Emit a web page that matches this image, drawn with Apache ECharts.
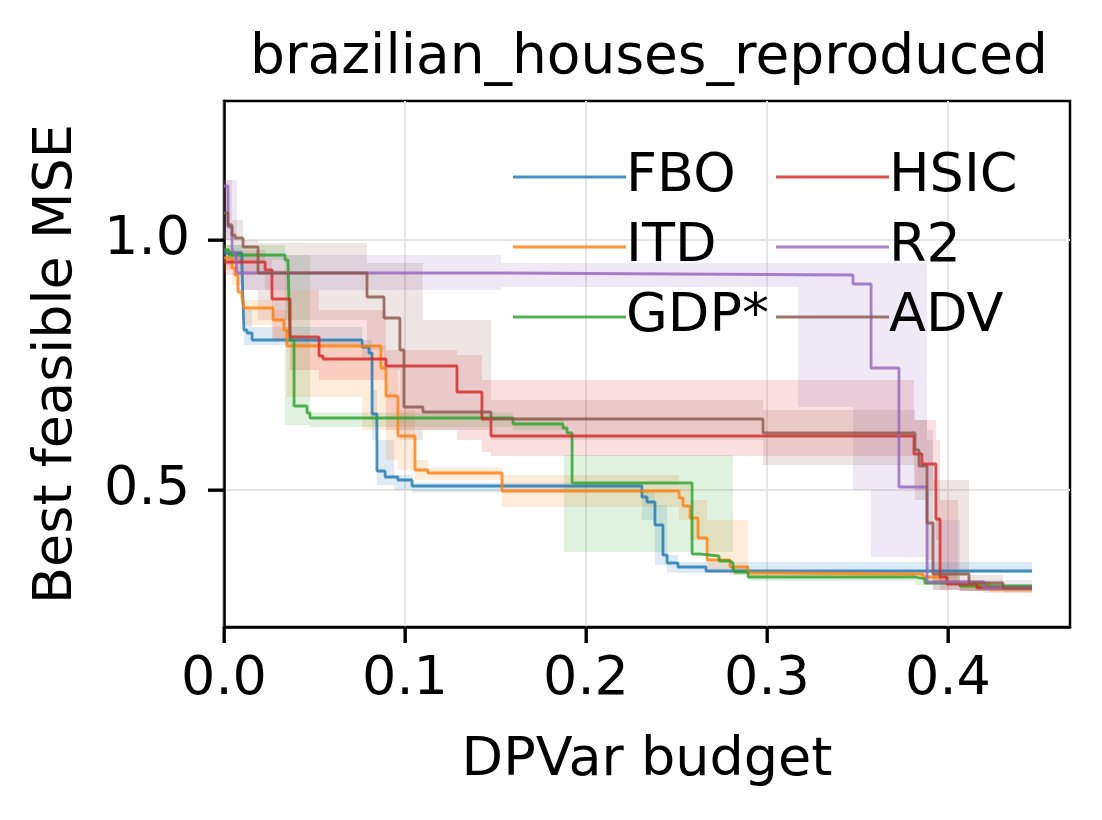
<!DOCTYPE html>
<html>
<head>
<meta charset="utf-8">
<script src="https://cdn.jsdelivr.net/npm/echarts@6/dist/echarts.min.js"></script>
<style>html,body{margin:0;padding:0;background:#fff}#c{width:1102px;height:820px}</style>
</head>
<body>
<div id="c"></div>
<script>
// ---------- data ----------
const X_END = 0.4464;
const X_MIN = 0, X_MAX = 0.4674, Y_MIN = 0.226, Y_MAX = 1.278;
const xTicks = [0, 0.1, 0.2, 0.3, 0.4];
const yTicks = [0.5, 1.0];
const names = ['FBO', 'ITD', 'GDP*', 'HSIC', 'R2', 'ADV'];

const fboX = [0, 0.0099, 0.011, 0.0127, 0.0155, 0.0763, 0.0801, 0.0818, 0.0845, 0.0890, 0.0961, 0.1039, 0.2309, 0.2337, 0.2381, 0.2425, 0.2448, 0.2508, 0.2663];
const fboY = [0.974, 0.946, 0.82, 0.814, 0.80, 0.786, 0.774, 0.652, 0.538, 0.526, 0.52, 0.508, 0.486, 0.476, 0.43, 0.37, 0.354, 0.346, 0.338];

const itdX = [0, 0.0044, 0.0061, 0.0077, 0.0099, 0.011, 0.0271, 0.0331, 0.0348, 0.0867, 0.0895, 0.0961, 0.1055, 0.1127, 0.1536, 0.2514, 0.2536, 0.2575, 0.2619, 0.2669, 0.2796, 0.2895, 0.3044, 0.3862, 0.3956, 0.4066, 0.4232];
const itdY = [0.964, 0.944, 0.93, 0.896, 0.886, 0.864, 0.84, 0.82, 0.788, 0.744, 0.688, 0.608, 0.54, 0.534, 0.498, 0.484, 0.468, 0.444, 0.404, 0.36, 0.346, 0.334, 0.332, 0.326, 0.316, 0.31, 0.302];

const gdpX = [0, 0.0028, 0.0337, 0.0354, 0.0365, 0.0387, 0.0459, 0.0475, 0.1597, 0.1873, 0.1895, 0.1923, 0.2586, 0.263, 0.2735, 0.2796, 0.2812, 0.2823, 0.2895, 0.3818, 0.3873, 0.4066];
const gdpY = [0.98, 0.97, 0.96, 0.95, 0.80, 0.668, 0.654, 0.644, 0.632, 0.624, 0.614, 0.514, 0.372, 0.368, 0.358, 0.354, 0.344, 0.336, 0.326, 0.322, 0.314, 0.308];

const hsicX = [0, 0.0227, 0.0265, 0.0365, 0.0525, 0.0547, 0.0895, 0.1287, 0.1425, 0.1475, 0.3812, 0.3856, 0.3933, 0.3956, 0.3994, 0.4160];
const hsicY = [0.956, 0.94, 0.882, 0.806, 0.768, 0.762, 0.748, 0.696, 0.642, 0.608, 0.572, 0.552, 0.442, 0.326, 0.312, 0.304];

const r2X = [0, 0.0022, 0.0044, 0.005, 0.0066, 0.0072, 0.153, 0.3475, 0.3575, 0.3729, 0.3884, 0.4199];
const r2Y = [1.108, 1.026, 0.986, 0.974, 0.96, 0.934, 0.93, 0.912, 0.744, 0.506, 0.316, 0.304];

const advX = [0, 0.0022, 0.0044, 0.0061, 0.0105, 0.0188, 0.0790, 0.0884, 0.0972, 0.0994, 0.1099, 0.1475, 0.2978, 0.3818, 0.3840, 0.3884, 0.3917, 0.4116, 0.4304];
const advY = [1.054, 1.03, 1.01, 1.004, 0.986, 0.934, 0.886, 0.844, 0.78, 0.666, 0.656, 0.642, 0.614, 0.58, 0.548, 0.434, 0.332, 0.314, 0.304];

// confidence bands: breakpoints, lower, upper
const fboBandX = [0, 0.0099, 0.011, 0.0155, 0.0763, 0.0818, 0.0845, 0.094, 0.1039, 0.2309, 0.2381, 0.2448, 0.2508, 0.2663];
const fboBandLo = [0.95, 0.90, 0.79, 0.79, 0.76, 0.60, 0.51, 0.50, 0.495, 0.44, 0.35, 0.335, 0.334, 0.334];
const fboBandHi = [0.99, 0.97, 0.86, 0.826, 0.80, 0.70, 0.60, 0.53, 0.515, 0.50, 0.47, 0.37, 0.356, 0.356];

const itdBandX = [0, 0.0044, 0.0099, 0.011, 0.0271, 0.0348, 0.0763, 0.0895, 0.0961, 0.1055, 0.1127, 0.1536, 0.2514, 0.2575, 0.2669, 0.2796, 0.2895, 0.3044, 0.3862, 0.4066, 0.4232];
const itdBandLo = [0.94, 0.91, 0.84, 0.83, 0.80, 0.686, 0.62, 0.56, 0.54, 0.52, 0.52, 0.466, 0.44, 0.40, 0.34, 0.33, 0.325, 0.325, 0.31, 0.298, 0.295];
const itdBandHi = [0.99, 0.97, 0.90, 0.88, 0.86, 0.80, 0.79, 0.74, 0.66, 0.56, 0.545, 0.53, 0.51, 0.48, 0.44, 0.44, 0.34, 0.338, 0.335, 0.318, 0.308];

const gdpBandX = [0, 0.0337, 0.0475, 0.1597, 0.1878, 0.2812, 0.2895, 0.3818, 0.4066];
const gdpBandLo = [0.96, 0.63, 0.626, 0.62, 0.376, 0.33, 0.318, 0.31, 0.298];
const gdpBandHi = [0.99, 0.97, 0.655, 0.645, 0.57, 0.35, 0.335, 0.33, 0.312];

const hsicBandX = [0, 0.0227, 0.0265, 0.0365, 0.0525, 0.0895, 0.1287, 0.1425, 0.1475, 0.3812, 0.3933, 0.3956, 0.4055, 0.4193];
const hsicBandLo = [0.93, 0.90, 0.80, 0.74, 0.72, 0.62, 0.60, 0.576, 0.568, 0.50, 0.40, 0.30, 0.298, 0.295];
const hsicBandHi = [0.98, 0.96, 0.94, 0.90, 0.86, 0.78, 0.77, 0.72, 0.72, 0.64, 0.60, 0.48, 0.32, 0.31];

const r2BandX = [0, 0.0072, 0.153, 0.3171, 0.3475, 0.3575, 0.3729, 0.3884, 0.3917, 0.4066];
const r2BandLo = [1.0, 0.90, 0.906, 0.666, 0.50, 0.366, 0.366, 0.34, 0.30, 0.298];
const r2BandHi = [1.12, 0.97, 0.954, 0.954, 0.954, 0.954, 0.954, 0.62, 0.44, 0.32];

const advBandX = [0, 0.0044, 0.0105, 0.0188, 0.079, 0.0884, 0.0972, 0.1099, 0.1475, 0.2978, 0.3818, 0.3884, 0.3917, 0.4116, 0.4304];
const advBandLo = [1.0, 0.96, 0.90, 0.84, 0.78, 0.74, 0.60, 0.62, 0.60, 0.55, 0.48, 0.36, 0.30, 0.298, 0.295];
const advBandHi = [1.12, 1.04, 1.0, 0.994, 0.954, 0.954, 0.954, 0.84, 0.68, 0.66, 0.64, 0.60, 0.52, 0.33, 0.31];

// ---------- build ----------
const colors = [[31,119,180],[255,127,14],[44,160,44],[214,39,40],[148,103,189],[140,86,75]];
const lines = [[fboX,fboY],[itdX,itdY],[gdpX,gdpY],[hsicX,hsicY],[r2X,r2Y],[advX,advY]];
const bands = [[fboBandX,fboBandLo,fboBandHi],[itdBandX,itdBandLo,itdBandHi],[gdpBandX,gdpBandLo,gdpBandHi],
               [hsicBandX,hsicBandLo,hsicBandHi],[r2BandX,r2BandLo,r2BandHi],[advBandX,advBandLo,advBandHi]];
const FONT = 'DejaVu Sans';
const TICK_LEN = 16;
const rgba = (c,a) => `rgba(${c[0]},${c[1]},${c[2]},${a})`;

const series = [];
bands.forEach((b, k) => {
  const [bx, lo, hi] = b;
  series.push({
    type: 'custom', clip: true, silent: true,
    data: [[0.2, 0.7]],
    encode: {x: 0, y: 1},
    renderItem: function (params, api) {
      const up = [], dn = [];
      for (let i = 0; i < bx.length; i++) {
        const x0 = bx[i], x1 = i + 1 < bx.length ? bx[i + 1] : X_END;
        up.push(api.coord([x0, hi[i]]), api.coord([x1, hi[i]]));
        dn.push(api.coord([x0, lo[i]]), api.coord([x1, lo[i]]));
      }
      return {type: 'polygon', shape: {points: up.concat(dn.reverse())},
              style: {fill: rgba(colors[k], 0.15), stroke: null}};
    },
    z: 1
  });
});
lines.forEach((l, k) => {
  const [xs, ys] = l;
  const data = xs.map((x, i) => [x, ys[i]]);
  data.push([X_END, ys[ys.length - 1]]);
  series.push({
    type: 'line', name: names[k], step: 'end', data: data,
    showSymbol: false, symbol: 'none',
    lineStyle: {width: 2.8, color: rgba(colors[k], 0.82)},
    itemStyle: {color: rgba(colors[k], 0.82)},
    z: 3
  });
});

const legendCommon = {
  orient: 'vertical', icon: 'rect', itemWidth: 113, itemHeight: 3,
  itemGap: 14, padding: 0,
  textStyle: {fontFamily: FONT, fontSize: 54, color: '#000', lineHeight: 56, padding: [0, 0, 0, -5]}
};

const option = {
  animation: false,
  backgroundColor: '#fff',
  title: {
    text: 'brazilian_houses_reproduced', left: 644, top: 26, textAlign: 'center',
    textStyle: {fontFamily: FONT, fontSize: 55, fontWeight: 'normal', color: '#000'}
  },
  legend: [
    Object.assign({left: 513, top: 149, data: names.slice(0, 3)}, legendCommon),
    Object.assign({left: 776, top: 149, data: names.slice(3, 6)}, legendCommon)
  ],
  grid: {left: 224, right: 32, top: 101, bottom: 193, show: true, borderColor: '#000', borderWidth: 2.5, containLabel: false},
  xAxis: {
    type: 'value', min: X_MIN, max: X_MAX,
    name: 'DPVar budget', nameLocation: 'middle', nameGap: 107,
    nameTextStyle: {fontFamily: FONT, fontSize: 54, color: '#000'},
    axisLine: {show: true, lineStyle: {color: '#000', width: 2.5}},
    axisTick: {show: true, length: TICK_LEN, lineStyle: {color: '#000', width: 2.5}, customValues: xTicks},
    axisLabel: {fontFamily: FONT, fontSize: 54, color: '#000', margin: 26, customValues: xTicks,
                formatter: v => v.toFixed(1)},
    splitLine: {show: true, lineStyle: {color: '#e6e6e6', width: 2}}
  },
  yAxis: {
    type: 'value', min: Y_MIN, max: Y_MAX,
    name: 'Best feasible MSE', nameLocation: 'middle', nameGap: 140,
    nameTextStyle: {fontFamily: FONT, fontSize: 54, color: '#000'},
    axisLine: {show: true, lineStyle: {color: '#000', width: 2.5}},
    axisTick: {show: true, length: TICK_LEN, lineStyle: {color: '#000', width: 2.5}, customValues: yTicks},
    axisLabel: {fontFamily: FONT, fontSize: 54, color: '#000', margin: 34, customValues: yTicks,
                formatter: v => v.toFixed(1)},
    splitLine: {show: true, lineStyle: {color: '#e6e6e6', width: 2}}
  },
  series: series
};

const chart = echarts.init(document.getElementById('c'), null, {renderer: 'canvas'});
chart.setOption(option);

// tick marks also placed through the chart's own scales (convertToPixel)
const tickEls = [];
xTicks.forEach(v => {
  const p = chart.convertToPixel({gridIndex: 0}, [v, Y_MIN]);
  tickEls.push({type: 'rect', z: 100, silent: true,
    shape: {x: p[0] - 1.5, y: p[1], width: 3, height: TICK_LEN},
    style: {fill: '#000'}});
});
yTicks.forEach(v => {
  const p = chart.convertToPixel({gridIndex: 0}, [X_MIN, v]);
  tickEls.push({type: 'rect', z: 100, silent: true,
    shape: {x: p[0] - TICK_LEN, y: p[1] - 1.5, width: TICK_LEN, height: 3},
    style: {fill: '#000'}});
});
chart.setOption({graphic: {elements: tickEls}});
</script>
</body>
</html>
